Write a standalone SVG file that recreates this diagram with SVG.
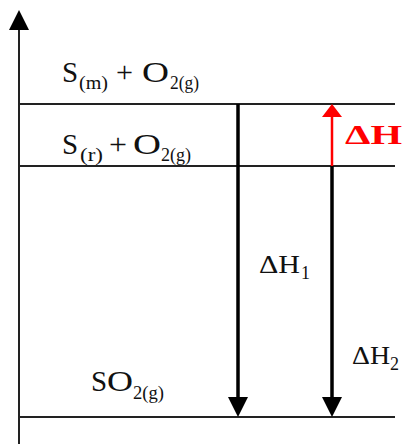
<svg xmlns="http://www.w3.org/2000/svg" width="405" height="444" viewBox="0 0 405 444">
<style>
.t{font-family:"Liberation Serif","Times New Roman",serif;fill:#111}
.m{font-size:29px}
.s{font-size:19px}
.lvl{stroke:#222;stroke-width:2;fill:none}
.arr{stroke:#000;stroke-width:3.5;fill:none}
.red{stroke:#f00;stroke-width:2.5;fill:none}
</style>
<rect width="405" height="444" fill="#fff"/>
<g id="axis">
<line x1="19" y1="444" x2="19" y2="26" class="lvl"/>
<polygon points="19,10 9,30 29,30" fill="#000"/>
</g>
<g id="level-Sm">
<line x1="18" y1="104" x2="395" y2="104" class="lvl"/>
<text class="t m" x="62" y="82">S</text>
<text class="t s" x="79" y="89" textLength="29" lengthAdjust="spacingAndGlyphs">(m)</text>
<text class="t m" x="116" y="82" textLength="17" lengthAdjust="spacingAndGlyphs">+</text>
<text class="t m" x="142" y="82" textLength="27" lengthAdjust="spacingAndGlyphs">O</text>
<text class="t s" x="170" y="89" textLength="29" lengthAdjust="spacingAndGlyphs">2(g)</text>
</g>
<g id="level-Sr">
<line x1="18" y1="166" x2="395" y2="166" class="lvl"/>
<text class="t m" x="62" y="154">S</text>
<text class="t s" x="80" y="161" textLength="23" lengthAdjust="spacingAndGlyphs">(r)</text>
<text class="t m" x="109" y="154" textLength="18" lengthAdjust="spacingAndGlyphs">+</text>
<text class="t m" x="133" y="154" textLength="28" lengthAdjust="spacingAndGlyphs">O</text>
<text class="t s" x="161" y="161" textLength="30" lengthAdjust="spacingAndGlyphs">2(g)</text>
</g>
<g id="level-SO2">
<line x1="18" y1="417" x2="395" y2="417" class="lvl"/>
<text class="t m" x="91" y="391">S</text>
<text class="t m" x="107" y="391" textLength="26" lengthAdjust="spacingAndGlyphs">O</text>
<text class="t s" x="133" y="399" textLength="31" lengthAdjust="spacingAndGlyphs">2(g)</text>
</g>
<g id="connectors">
<g id="dH1">
<line x1="238" y1="104" x2="238" y2="400" class="arr"/>
<polygon points="228,397 248,397 238,417" fill="#000"/>
<text class="t" font-size="26" x="259" y="273" textLength="41" lengthAdjust="spacingAndGlyphs">ΔH</text>
<text class="t" font-size="18" x="301" y="279">1</text>
</g>
<g id="dH2">
<line x1="332" y1="166" x2="332" y2="400" class="arr"/>
<polygon points="322,397 342,397 332,417" fill="#000"/>
<text class="t" font-size="26" x="352" y="364" textLength="38" lengthAdjust="spacingAndGlyphs">ΔH</text>
<text class="t" font-size="18" x="390" y="370">2</text>
</g>
<g id="dH">
<line x1="332" y1="166" x2="332" y2="114" class="red"/>
<polygon points="332,104 322,117 342,117" fill="#f00"/>
<text font-family="Liberation Serif, serif" font-weight="bold" font-size="28" fill="#f00" x="345" y="144" textLength="57" lengthAdjust="spacingAndGlyphs">ΔH</text>
</g>
</g>
</svg>
